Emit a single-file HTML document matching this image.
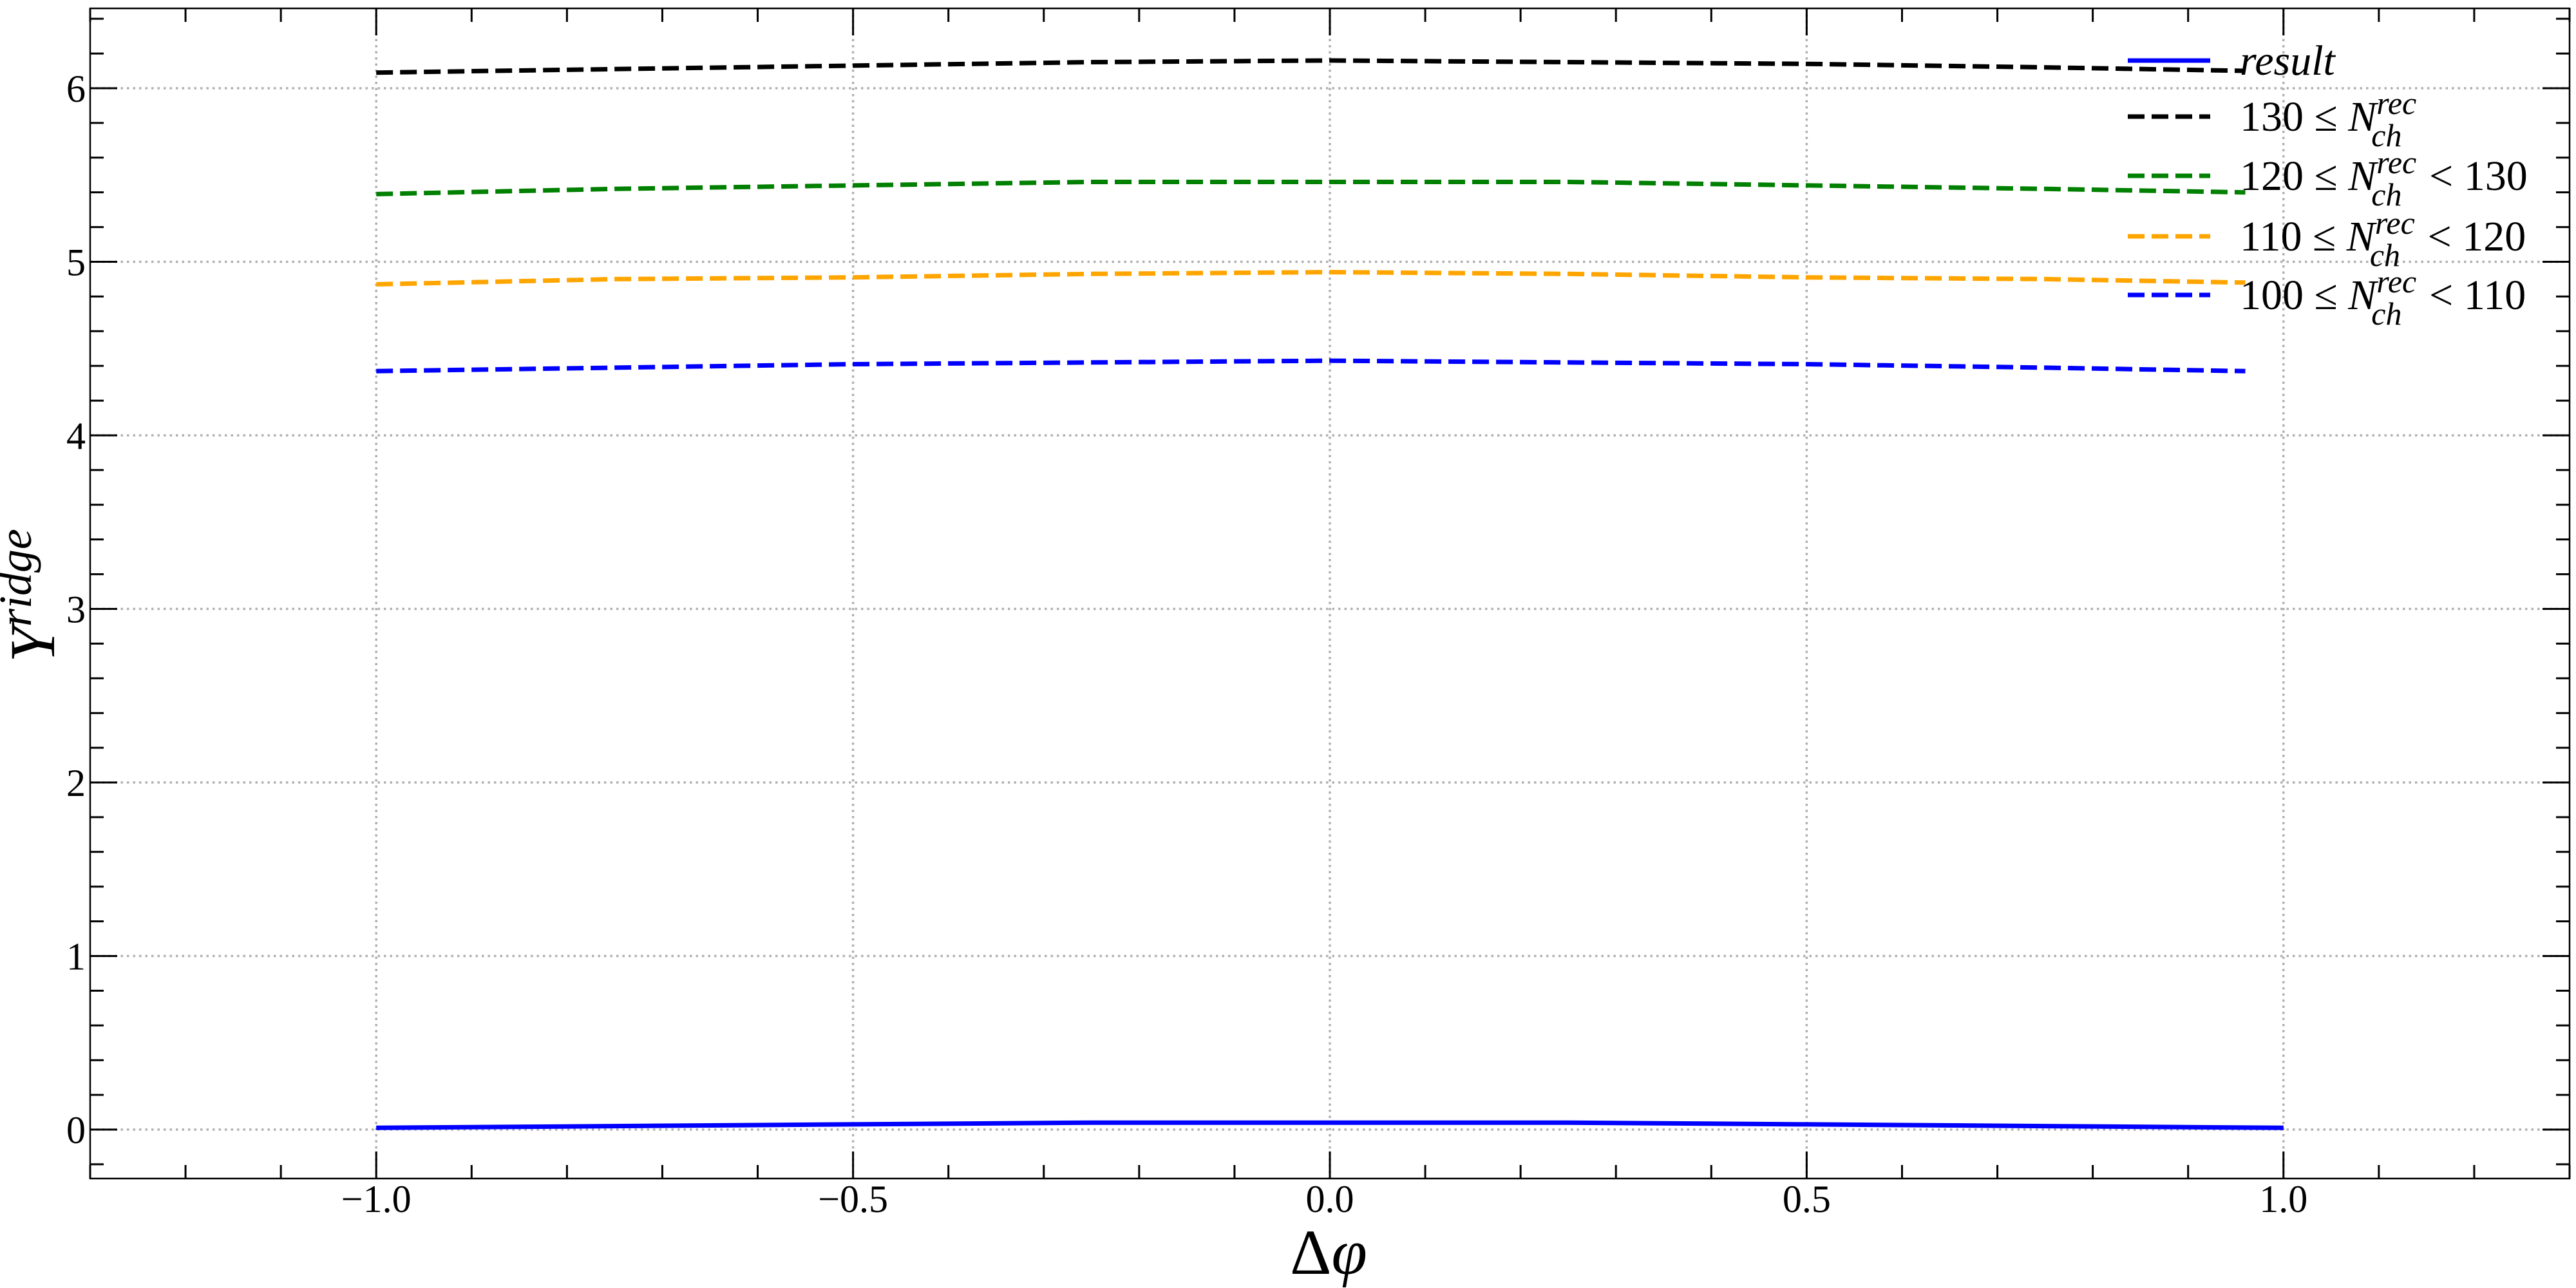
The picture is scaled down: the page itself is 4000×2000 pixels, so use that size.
<!DOCTYPE html>
<html><head><meta charset="utf-8"><style>
html,body{margin:0;padding:0;background:#fff;}
svg{display:block;font-family:"Liberation Serif","DejaVu Serif",serif;}
</style></head><body>
<svg id="chart" width="4000" height="2000" viewBox="0 0 4000 2000" xmlns="http://www.w3.org/2000/svg"></svg>
<script>
const xMajorTicks = [-1.0, -0.5, 0.0, 0.5, 1.0];
const xTickLabels = ["\u22121.0", "\u22120.5", "0.0", "0.5", "1.0"];
const yMajorTicks = [0, 1, 2, 3, 4, 5, 6];
const yTickLabels = ["0", "1", "2", "3", "4", "5", "6"];
const dashX = [-1.0, -0.75, -0.5, -0.25, 0.0, 0.25, 0.5, 0.75, 0.96];
const resultX = [-1.0, -0.75, -0.5, -0.25, 0.0, 0.25, 0.5, 0.75, 1.0];
const resultY = [0.01, 0.02, 0.03, 0.04, 0.04, 0.04, 0.03, 0.02, 0.01];
const n130Y = [6.09, 6.11, 6.13, 6.15, 6.16, 6.15, 6.14, 6.12, 6.10];
const n120Y = [5.39, 5.42, 5.44, 5.46, 5.46, 5.46, 5.44, 5.42, 5.40];
const n110Y = [4.87, 4.90, 4.91, 4.93, 4.94, 4.93, 4.91, 4.90, 4.88];
const n100Y = [4.37, 4.39, 4.41, 4.42, 4.43, 4.42, 4.41, 4.39, 4.37];

const svg = document.getElementById('chart');
const NS = 'http://www.w3.org/2000/svg';
const L = 140, R = 3990, T = 13, B = 1830;
const xMin = -1.30, xMax = 1.30, yMin = -0.282, yMax = 6.46;
function sx(v){ return L + (v - xMin) / (xMax - xMin) * (R - L); }
function sy(v){ return B - (v - yMin) / (yMax - yMin) * (B - T); }
function mk(tag, attrs, parent){
  const e = document.createElementNS(NS, tag);
  for (const k in attrs) e.setAttribute(k, attrs[k]);
  (parent || svg).appendChild(e);
  return e;
}

const grid = mk('g', {});


xMajorTicks.forEach(v => {
  const l = mk('line', {x1: sx(v), x2: sx(v), y1: T, y2: B, stroke: '#b0b0b0', 'stroke-width': 3.5, 'stroke-dasharray': '3.5 6'}, grid);
  
  
});
yMajorTicks.forEach(v => {
  const l = mk('line', {x1: L, x2: R, y1: sy(v), y2: sy(v), stroke: '#b0b0b0', 'stroke-width': 3.5, 'stroke-dasharray': '3.5 6'}, grid);
  
  
});

function series(xs, ys, color, dashed, name){
  const d = xs.map((x, i) => (i ? 'L' : 'M') + sx(x).toFixed(1) + ' ' + sy(ys[i]).toFixed(1)).join(' ');
  const p = mk('path', {d: d, fill: 'none', stroke: color, 'stroke-width': 7, 'stroke-dasharray': dashed ? '26 11' : 'none'});
  
  
}
series(resultX, resultY, '#0000ff', false, 'result-line');
series(dashX, n130Y, '#000000', true, 'n130-line');
series(dashX, n120Y, '#008000', true, 'n120-line');
series(dashX, n110Y, '#ffa500', true, 'n110-line');
series(dashX, n100Y, '#0000ff', true, 'n100-line');

const frame = mk('rect', {x: L, y: T, width: R - L, height: B - T, fill: 'none', stroke: '#000', 'stroke-width': 2.5});



const ticks = mk('g', {stroke: '#000', 'stroke-width': 3});


for (let i = -13; i <= 13; i++) {
  const v = i / 10; const major = (i % 5 === 0); const len = major ? 42 : 21;
  mk('line', {x1: sx(v), x2: sx(v), y1: B, y2: B - len}, ticks);
  mk('line', {x1: sx(v), x2: sx(v), y1: T, y2: T + len}, ticks);
}
for (let i = -1; i <= 32; i++) {
  const v = i / 5; if (v < yMin || v > yMax) continue;
  const major = (i % 5 === 0); const len = major ? 42 : 21;
  mk('line', {x1: L, x2: L + len, y1: sy(v), y2: sy(v)}, ticks);
  mk('line', {x1: R, x2: R - len, y1: sy(v), y2: sy(v)}, ticks);
}

xMajorTicks.forEach((v, i) => {
  const t = mk('text', {x: sx(v), y: 1882, 'font-size': 60, 'text-anchor': 'middle'});
  t.textContent = xTickLabels[i];
  
  
});
yMajorTicks.forEach((v, i) => {
  const t = mk('text', {x: 133, y: sy(v) + 21, 'font-size': 60, 'text-anchor': 'end'});
  t.textContent = yTickLabels[i];
  
  
});

const xt = mk('text', {x: 2063, y: 1978, 'font-size': 100, 'text-anchor': 'middle', 'font-style': 'italic'});
xt.innerHTML = '<tspan font-style="normal">\u0394</tspan>\u03c6';


const yt = mk('text', {x: 0, y: 0, 'font-size': 100, 'font-style': 'italic', 'text-anchor': 'middle', transform: 'translate(84 925) rotate(-90)'});
yt.innerHTML = 'Y<tspan font-size="72" dy="-36">ridge</tspan>';



const legendLabels = ['result', '130 \u2264 N', '120 \u2264 N', '110 \u2264 N', '100 \u2264 N'];
const legendTails = ['', '', ' < 130', ' < 120', ' < 110'];
const legendColors = ['#0000ff', '#000000', '#008000', '#ffa500', '#0000ff'];
const legendY = [94, 181, 273, 367, 458];
const lg = mk('g', {});


legendLabels.forEach((lab, i) => {
  const g = mk('g', {}, lg);
  
  
  mk('line', {x1: 3304, x2: 3432, y1: legendY[i], y2: legendY[i], stroke: legendColors[i], 'stroke-width': 7, 'stroke-dasharray': i ? '26 11' : 'none'}, g);
  const t = mk('text', {x: 3478, y: legendY[i] + 22, 'font-size': 66}, g);
  if (i === 0) {
    t.setAttribute('font-style', 'italic');
    t.textContent = 'result';
  } else {
    t.innerHTML = lab.replace('N', '<tspan font-style="italic">N</tspan>') +
      '<tspan font-style="italic" font-size="50" dy="-26">rec</tspan>' +
      '<tspan font-style="italic" font-size="50" dx="-70" dy="50">ch</tspan>' +
      '<tspan dx="26" dy="-24">' + legendTails[i] + '</tspan>';
  }
});
</script>
</body></html>
